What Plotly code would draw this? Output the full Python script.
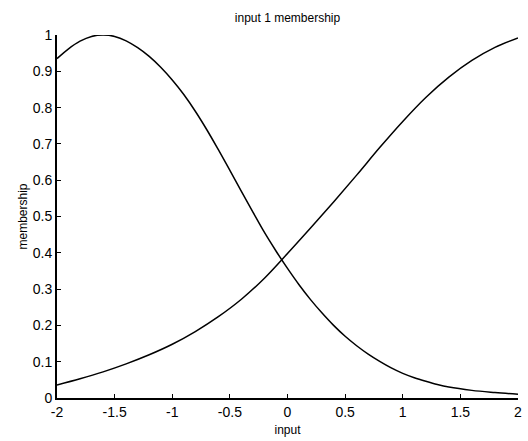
import plotly.graph_objects as go

# membership function 1 (decreasing curve, peak near -1.6)
x1 = [-2.0, -1.9, -1.8, -1.7, -1.6, -1.5, -1.4, -1.3, -1.2, -1.1, -1.0, -0.9, -0.8, -0.7,
      -0.6, -0.5, -0.4, -0.3, -0.2, -0.1, 0.0, 0.1, 0.2, 0.3, 0.4, 0.5, 0.6, 0.7, 0.8, 0.9,
      1.0, 1.1, 1.2, 1.3, 1.4, 1.6, 1.8, 2.0]
y1 = [0.935, 0.962, 0.983, 0.996, 1.0, 0.996, 0.984, 0.965, 0.941, 0.911, 0.876, 0.836,
      0.790, 0.739, 0.684, 0.627, 0.569, 0.512, 0.456, 0.405, 0.357, 0.312, 0.271, 0.234,
      0.200, 0.170, 0.144, 0.121, 0.101, 0.083, 0.068, 0.056, 0.046, 0.037, 0.030, 0.021,
      0.015, 0.010]

# membership function 2 (increasing curve)
x2 = [-2.0, -1.8, -1.6, -1.4, -1.2, -1.0, -0.8, -0.6, -0.4, -0.2, 0.0, 0.2, 0.4, 0.6,
      0.8, 1.0, 1.2, 1.4, 1.6, 1.8, 2.0]
y2 = [0.036, 0.053, 0.072, 0.094, 0.119, 0.148, 0.183, 0.224, 0.272, 0.330, 0.398, 0.468,
      0.540, 0.614, 0.690, 0.762, 0.828, 0.884, 0.930, 0.966, 0.992]

x_tickvals = [-2, -1.5, -1, -0.5, 0, 0.5, 1, 1.5, 2]
x_ticktext = ["-2", "-1.5", "-1", "-0.5", "0", "0.5", "1", "1.5", "2"]
y_tickvals = [0, 0.1, 0.2, 0.3, 0.4, 0.5, 0.6, 0.7, 0.8, 0.9, 1]
y_ticktext = ["0", "0.1", "0.2", "0.3", "0.4", "0.5", "0.6", "0.7", "0.8", "0.9", "1"]

FONT = "Liberation Sans, Arial, sans-serif"

fig = go.Figure()
for xs, ys in ((x1, y1), (x2, y2)):
    fig.add_trace(go.Scatter(x=xs, y=ys, mode="lines",
                             line=dict(color="black", width=1.5, shape="spline", smoothing=1),
                             showlegend=False, hoverinfo="skip"))

fig.update_layout(
    width=528, height=441,
    margin=dict(l=57, r=6, t=35, b=38),
    paper_bgcolor="white", plot_bgcolor="white",
    font=dict(family=FONT, color="black", size=14),
    title=dict(text="input 1 membership", x=0.5, xref="paper", xanchor="center",
               y=1 - 18 / 441, yanchor="middle", font=dict(size=12, family=FONT, color="black")),
    xaxis=dict(range=[-2, 2], tickvals=x_tickvals, ticktext=x_ticktext, ticks="inside", ticklen=4,
               tickcolor="black", showline=True, linecolor="black", linewidth=1.5, showgrid=False,
               zeroline=False, tickfont=dict(size=14),
               title=dict(text="input", font=dict(size=12), standoff=7)),
    yaxis=dict(range=[0, 1], tickvals=y_tickvals, ticktext=y_ticktext, ticks="inside", ticklen=4,
               tickcolor="black", showline=True, linecolor="black", linewidth=2, showgrid=False,
               zeroline=False, tickfont=dict(size=14),
               title=dict(text="membership", font=dict(size=12), standoff=3)),
)

fig.write_html("out.html")
